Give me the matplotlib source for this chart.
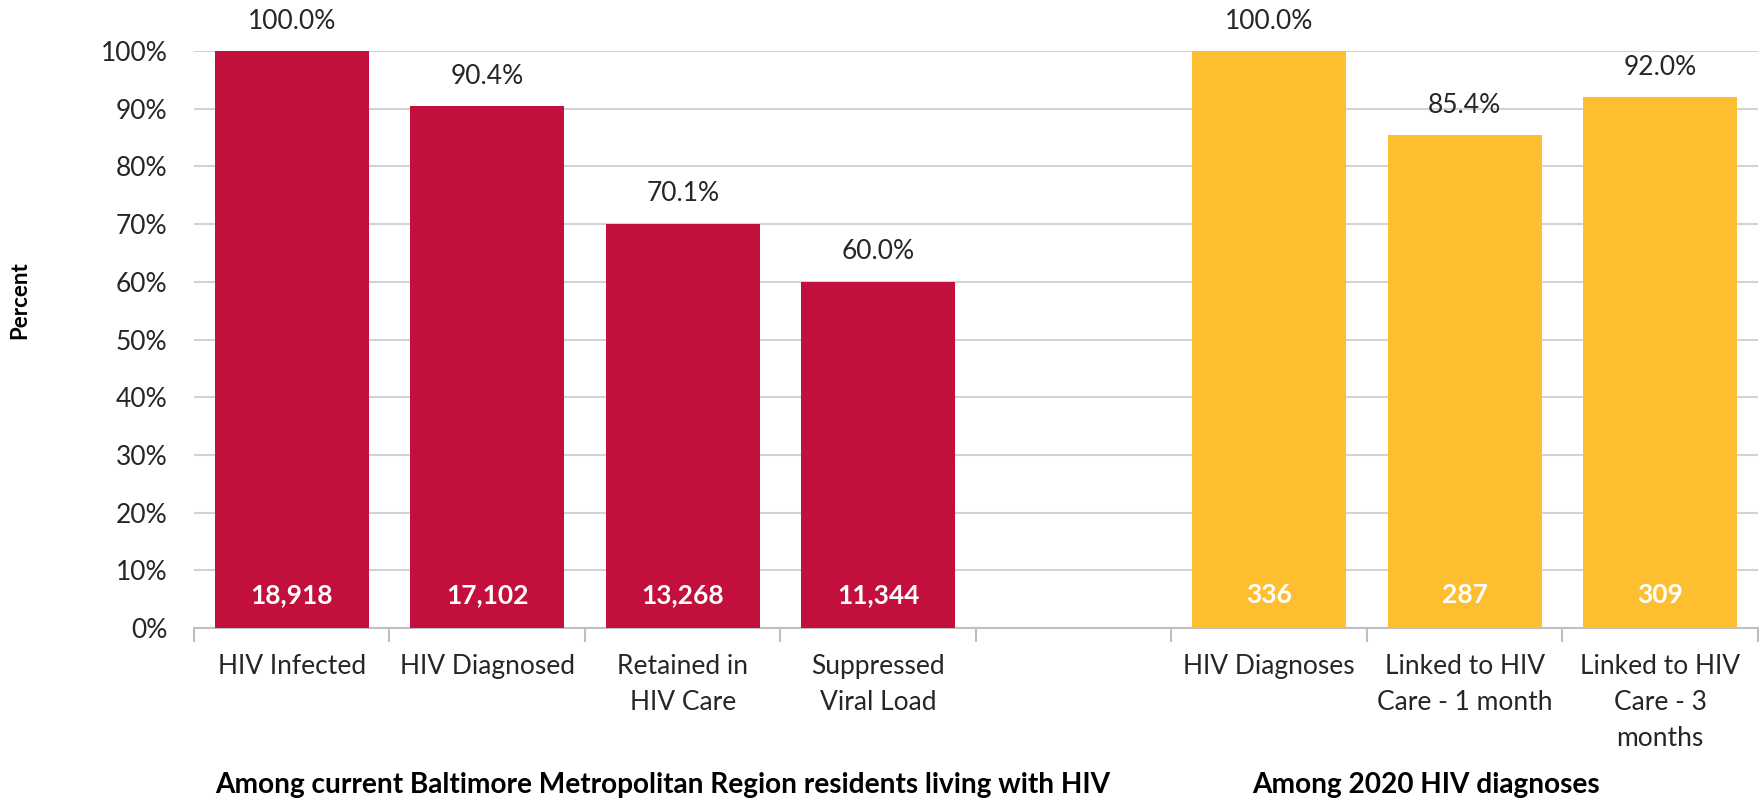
import matplotlib
matplotlib.use("Agg")
import matplotlib.pyplot as plt
from matplotlib.ticker import PercentFormatter, FixedLocator
import matplotlib.transforms as mtransforms

# ---- data ----
red_labels = ["HIV Infected", "HIV Diagnosed", "Retained in\nHIV Care", "Suppressed\nViral Load"]
red_pct = [100.0, 90.4, 70.1, 60.0]
red_counts = [18918, 17102, 13268, 11344]

yellow_labels = ["HIV Diagnoses", "Linked to HIV\nCare - 1 month", "Linked to HIV\nCare - 3\nmonths"]
yellow_pct = [100.0, 85.4, 92.0]
yellow_counts = [336, 287, 309]

group_titles = ["Among current Baltimore Metropolitan Region residents living with HIV",
                "Among 2020 HIV diagnoses"]
y_ticks = [0, 10, 20, 30, 40, 50, 60, 70, 80, 90, 100]

RED = "#C30F3C"
YELLOW = "#FDBF30"
FONT = ["Lato", "DejaVu Sans"]

plt.rcParams["font.family"] = FONT

fig = plt.figure(figsize=(17.65, 8.0), dpi=100)
ax = fig.add_axes([194 / 1765, 1 - 628 / 800, (1758 - 194) / 1765, (628 - 51) / 800])

red_x = list(range(len(red_labels)))
yellow_x = [len(red_labels) + 1 + i for i in range(len(yellow_labels))]
n_slots = len(red_labels) + 1 + len(yellow_labels)

bw = 0.79
ax.bar(red_x, red_pct, width=bw, color=RED, zorder=3)
ax.bar(yellow_x, yellow_pct, width=bw, color=YELLOW, zorder=3)

ax.set_xlim(-0.5, n_slots - 0.5)
ax.set_ylim(0, 100)

# y axis
ax.yaxis.set_major_locator(FixedLocator(y_ticks))
ax.yaxis.set_major_formatter(PercentFormatter(decimals=0))
ax.tick_params(axis="y", length=0, pad=19, labelsize=19, labelcolor="#262626")
ax.grid(axis="y", color="#D3D3D3", linewidth=1.5, zorder=0)
ax.set_axisbelow(True)

# x axis: labels at centers, ticks at slot boundaries
all_x = red_x + yellow_x
all_labels = red_labels + yellow_labels
ax.set_xticks(all_x)
ax.set_xticklabels(all_labels, fontsize=19, color="#262626", linespacing=1.53, va="top")
ax.tick_params(axis="x", which="major", length=0, pad=19)
ax.set_xticks([i - 0.5 for i in range(n_slots + 1)], minor=True)
ax.tick_params(axis="x", which="minor", length=10, width=1.5, color="#BFBFBF")

for s in ["top", "right", "left"]:
    ax.spines[s].set_visible(False)
ax.spines["bottom"].set_color("#BFBFBF")
ax.spines["bottom"].set_linewidth(1.5)

ax.set_ylabel("Percent", fontsize=16, fontweight="bold", va="center")
ax.yaxis.set_label_coords((20 - 194) / 1564, (628 - 300) / 577)

# value labels
off = mtransforms.offset_copy(ax.transData, fig=fig, x=0, y=30, units="dots")
for xs, pcts, counts in [(red_x, red_pct, red_counts), (yellow_x, yellow_pct, yellow_counts)]:
    for x, p, c in zip(xs, pcts, counts):
        ax.text(x, p, f"{p:.1f}%", transform=off, ha="center", va="center",
                fontsize=19, color="#262626", clip_on=False)
        ax.text(x, 5.7, f"{c:,}", ha="center", va="center", fontsize=19,
                fontweight="bold", color="white", zorder=4)

# group titles
trans = mtransforms.blended_transform_factory(ax.transData, fig.transFigure)
ax.text(1.9, 1 - 785 / 800, group_titles[0], transform=trans, ha="center", va="center",
        fontsize=20.2, fontweight="bold", color="black")
ax.text(5.8, 1 - 785 / 800, group_titles[1], transform=trans, ha="center", va="center",
        fontsize=20.2, fontweight="bold", color="black")

fig.savefig("out.png", dpi=100, facecolor="white")
